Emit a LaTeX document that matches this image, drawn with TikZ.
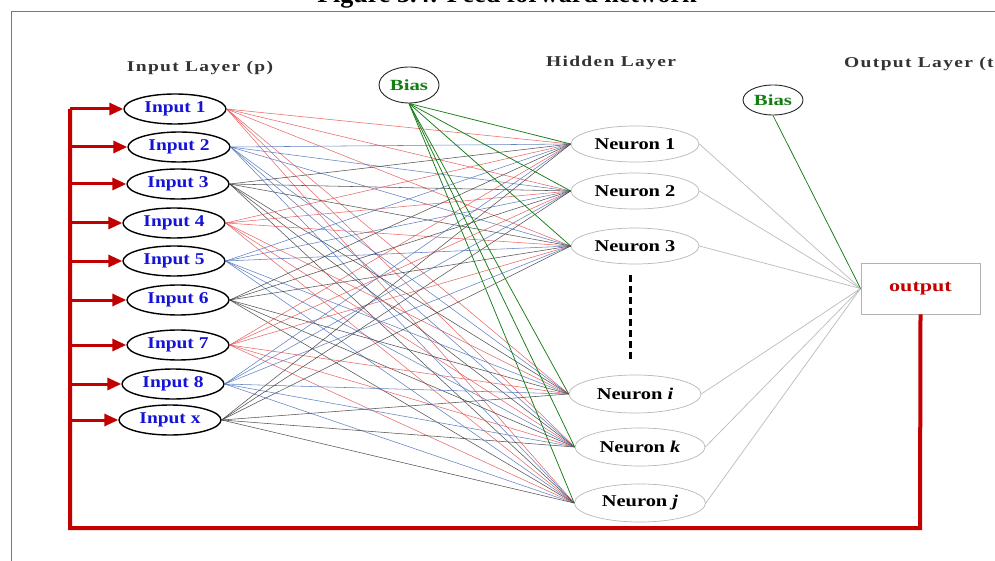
\documentclass[tikz,border=0pt]{standalone}
\usepackage{fontspec}
\setmainfont{Liberation Serif}
\newfontfamily\headserif[FakeStretch=1.3, LetterSpace=9]{Liberation Serif}
\newfontfamily\inserif[FakeStretch=1.18]{Liberation Serif}
\newfontfamily\nodeserif[FakeStretch=1.24]{Liberation Serif}
\newfontfamily\wideserif[FakeStretch=1.34]{Liberation Serif}
\usetikzlibrary{arrows.meta,shapes.geometric}

\definecolor{wred}{RGB}{228,80,80}
\definecolor{wblue}{RGB}{70,110,185}
\definecolor{wgray}{RGB}{55,55,55}
\definecolor{fbred}{RGB}{195,0,0}
\definecolor{biasgreen}{RGB}{20,125,20}
\definecolor{inblue}{RGB}{20,20,215}
\definecolor{framegray}{RGB}{120,120,120}

\tikzset{
  lbl/.style={font=\headserif\bfseries\fontsize{15}{17}\selectfont, text=black!80, inner sep=0pt},
  innode/.style={ellipse, draw=black, line width=1.4pt, minimum width=102pt, minimum height=30pt,
    inner sep=0pt, font=\inserif\bfseries\fontsize{16.5}{18}\selectfont, text=inblue},
  hid/.style={ellipse, draw=black!28, line width=0.7pt, minimum width=128pt, minimum height=36pt,
    inner sep=0pt, font=\nodeserif\bfseries\fontsize{16.5}{18}\selectfont, text=black},
  biasnode/.style={ellipse, draw=black!85, line width=0.9pt, minimum width=60pt, minimum height=36pt,
    inner sep=0pt, font=\wideserif\bfseries\fontsize{15.5}{17}\selectfont, text=biasgreen},
  outbox/.style={rectangle, draw=black!30, line width=0.9pt, minimum width=119pt, minimum height=51pt,
    inner sep=0pt, font=\wideserif\bfseries\fontsize{16.5}{18}\selectfont, text=fbred},
  wr/.style={draw=wred, line width=0.55pt, opacity=0.85},
  wb/.style={draw=wblue, line width=0.55pt, opacity=0.85},
  wk/.style={draw=wgray, line width=0.55pt, opacity=0.85},
  biaswire/.style={draw=biasgreen, line width=0.75pt},
  outwire/.style={draw=black!25, line width=0.75pt},
  feedback/.style={draw=fbred, line width=4pt, line join=miter},
  feedarrow/.style={draw=fbred, line width=3pt, -{Triangle[length=14pt,width=12pt]}},
}

\begin{document}
\begin{tikzpicture}[x=1pt,y=-1pt]
  \clip (0,0) rectangle (995,561);
  \fill[white] (0,0) rectangle (995,561);

  % caption and frame
  \node[anchor=base, font=\bfseries\fontsize{26}{28}\selectfont, inner sep=0pt] (title) at (507,3)
    {Figure 3.4: Feed forward network};
  \coordinate (frTL) at (11,12);
  \coordinate (frTR) at (995,12);
  \coordinate (frBL) at (11,561);
  \draw[framegray, line width=1pt] (frTR) -- (frTL) -- (frBL);

  % layer headings
  \node[lbl, anchor=base] (lblin) at (200,72) {Input Layer (p)};
  \node[lbl, anchor=base] (lblhid) at (611,67) {Hidden Layer};
  \node[lbl, anchor=base west] (lblout) at (844,68) {Output Layer (t)};

  % input layer
  \node[innode] (in1) at (175,109) {Input 1};
  \node[innode] (in2) at (179,147) {Input 2};
  \node[innode] (in3) at (178,184) {Input 3};
  \node[innode] (in4) at (174,223) {Input 4};
  \node[innode] (in5) at (174,261) {Input 5};
  \node[innode] (in6) at (178,300) {Input 6};
  \node[innode] (in7) at (178,345) {Input 7};
  \node[innode] (in8) at (173,384) {Input 8};
  \node[innode] (inx) at (170,420) {Input x};

  % hidden layer
  \node[hid] (h1) at (635,144) {Neuron 1};
  \node[hid] (h2) at (635,191) {Neuron 2};
  \node[hid] (h3) at (635,246) {Neuron 3};
  \node[hid, minimum width=132pt, minimum height=38pt] (hi) at (635,394) {Neuron \textit{i}};
  \node[hid, minimum width=130pt, minimum height=38pt] (hk) at (640,447) {Neuron \textit{k}};
  \node[hid, minimum width=131pt, minimum height=38pt] (hj) at (640,503) {Neuron \textit{j}};

  % elided neurons
  \coordinate (gapTop) at (630,275);
  \coordinate (gapBot) at (630,360);
  \draw[black, line width=3pt, dash pattern=on 7pt off 4pt] (gapTop) -- (gapBot);

  % bias units and output
  \node[biasnode] (bias1) at (409,85) {Bias};
  \node[biasnode, minimum height=30pt] (bias2) at (773,100) {Bias};
  \node[outbox] (out) at (920.5,288.5) {output};

  % weights input -> hidden
  \foreach \i/\s in {1/wr,2/wb,3/wk,4/wr,5/wb,6/wk,7/wr,8/wb,x/wk}
    \foreach \n in {1,2,3,i,k,j}
      \draw[\s] (in\i.east) -- (h\n.west);

  % bias -> hidden
  \foreach \n in {1,2,3,i,k,j}
    \draw[biaswire] (bias1.south) -- (h\n.west);

  % hidden -> output
  \foreach \n in {1,2,3,i,k,j}
    \draw[outwire] (h\n.east) -- (out.west);
  \draw[biaswire] (bias2.south) -- (out.west);

  % feedback loop from output to inputs
  \coordinate (fbR) at (920,528);
  \coordinate (fbL) at (70,528);
  \coordinate (fbT) at (70,109);
  \draw[feedback] (out.south) -- (fbR) -- (fbL) -- (fbT);
  \foreach \i in {1,2,3,4,5,6,7,8,x}
    \draw[feedarrow] (fbL |- in\i) -- (in\i.west);
\end{tikzpicture}
\end{document}
